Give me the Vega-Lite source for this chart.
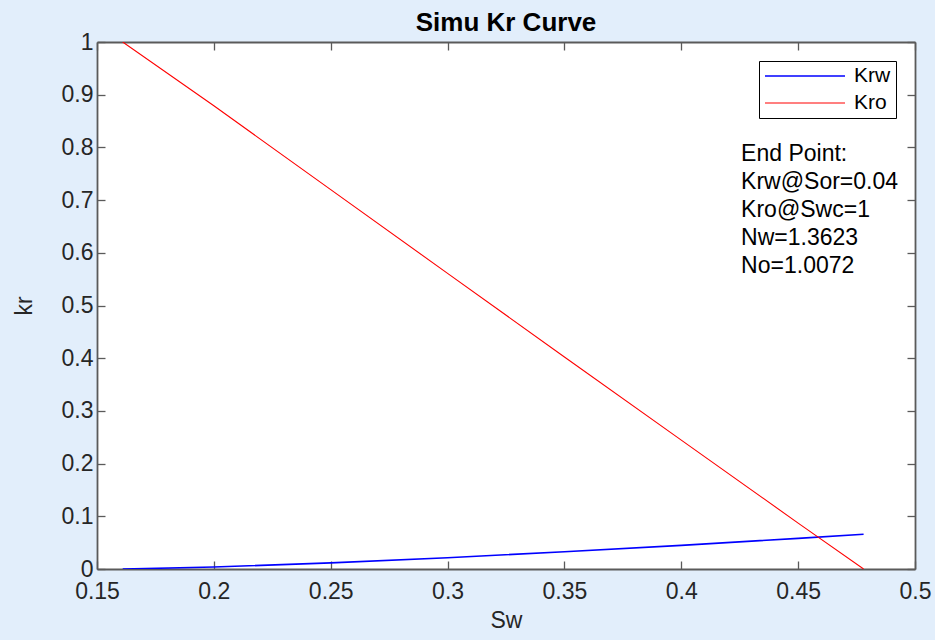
{
  "$schema": "https://vega.github.io/schema/vega-lite/v6.json",
  "width": 818,
  "height": 527,
  "autosize": {"type": "none"},
  "padding": {"left": 97, "top": 42, "right": 20, "bottom": 71},
  "background": "#e2eefb",
  "title": {
    "text": "Simu Kr Curve",
    "font": "Liberation Sans",
    "fontSize": 26,
    "fontWeight": "bold",
    "color": "#000000",
    "anchor": "middle",
    "offset": -5
  },
  "config": {
    "view": {"fill": "#ffffff", "stroke": null},
    "axis": {
      "grid": false,
      "labelFont": "Liberation Sans",
      "labelFontSize": 23,
      "labelColor": "#262626",
      "labelFlush": false,
      "titleFont": "Liberation Sans",
      "titleFontSize": 23,
      "titleFontWeight": "normal",
      "titleColor": "#262626",
      "domainColor": "#5a5a5a",
      "domainWidth": 1.8,
      "tickColor": "#5a5a5a",
      "tickWidth": 1.3,
      "tickSize": -8
    },
    "legend": {
      "orient": "top-right",
      "offset": 19,
      "strokeColor": "#000000",
      "fillColor": "#ffffff",
      "padding": 5,
      "symbolType": "stroke",
      "symbolSize": 6400,
      "symbolStrokeWidth": 1.3,
      "clipHeight": 20,
      "labelFont": "Liberation Sans",
      "labelFontSize": 21,
      "labelColor": "#000000",
      "labelOffset": 8,
      "rowPadding": 6
    }
  },
  "datasets": {
    "curves": [
      {"Sw": 0.161, "kr": 0.0, "series": "Krw"},
      {"Sw": 0.2, "kr": 0.0037, "series": "Krw"},
      {"Sw": 0.25, "kr": 0.0116, "series": "Krw"},
      {"Sw": 0.3, "kr": 0.0214, "series": "Krw"},
      {"Sw": 0.35, "kr": 0.0326, "series": "Krw"},
      {"Sw": 0.4, "kr": 0.0449, "series": "Krw"},
      {"Sw": 0.45, "kr": 0.0581, "series": "Krw"},
      {"Sw": 0.478, "kr": 0.066, "series": "Krw"},
      {"Sw": 0.161, "kr": 1.0, "series": "Kro"},
      {"Sw": 0.2, "kr": 0.879, "series": "Kro"},
      {"Sw": 0.25, "kr": 0.7198, "series": "Kro"},
      {"Sw": 0.3, "kr": 0.561, "series": "Kro"},
      {"Sw": 0.35, "kr": 0.4024, "series": "Kro"},
      {"Sw": 0.4, "kr": 0.2445, "series": "Kro"},
      {"Sw": 0.45, "kr": 0.0871, "series": "Kro"},
      {"Sw": 0.478, "kr": 0.0, "series": "Kro"}
    ],
    "note": [
      {"Sw": 0.4256, "kr": 0.774, "label": "End Point:\nKrw@Sor=0.04\nKro@Swc=1\nNw=1.3623\nNo=1.0072"}
    ]
  },
  "layer": [
    {
      "data": {"name": "curves"},
      "mark": {"type": "line", "clip": true},
      "encoding": {
        "x": {
          "field": "Sw", "type": "quantitative",
          "scale": {"domain": [0.15, 0.5], "nice": false, "zero": false},
          "axis": {
            "orient": "bottom", "title": "Sw", "format": "~g",
            "values": [0.15, 0.2, 0.25, 0.3, 0.35, 0.4, 0.45, 0.5],
            "labelPadding": 19, "titlePadding": 6
          }
        },
        "y": {
          "field": "kr", "type": "quantitative",
          "scale": {"domain": [0, 1], "nice": false},
          "axis": {
            "orient": "left", "title": "kr", "format": "~g",
            "values": [0, 0.1, 0.2, 0.3, 0.4, 0.5, 0.6, 0.7, 0.8, 0.9, 1],
            "labelPadding": 12, "titlePadding": 25
          }
        },
        "color": {
          "field": "series", "type": "nominal",
          "scale": {"domain": ["Krw", "Kro"], "range": ["#0000ff", "#ff0000"]},
          "legend": {"title": null}
        },
        "strokeWidth": {
          "field": "series", "type": "nominal",
          "scale": {"domain": ["Krw", "Kro"], "range": [1.6, 1.1]},
          "legend": null
        }
      }
    },
    {
      "data": {"name": "note"},
      "mark": {
        "type": "text",
        "align": "left",
        "baseline": "alphabetic",
        "font": "Liberation Sans",
        "fontSize": 23,
        "lineBreak": "\n",
        "lineHeight": 28,
        "color": "#000000"
      },
      "encoding": {
        "x": {
          "field": "Sw", "type": "quantitative",
          "scale": {"domain": [0.15, 0.5], "nice": false, "zero": false},
          "axis": {
            "orient": "top", "title": null, "labels": false,
            "values": [0.15, 0.2, 0.25, 0.3, 0.35, 0.4, 0.45, 0.5]
          }
        },
        "y": {
          "field": "kr", "type": "quantitative",
          "scale": {"domain": [0, 1], "nice": false},
          "axis": {
            "orient": "right", "title": null, "labels": false,
            "values": [0, 0.1, 0.2, 0.3, 0.4, 0.5, 0.6, 0.7, 0.8, 0.9, 1]
          }
        },
        "text": {"field": "label", "type": "nominal"}
      }
    }
  ],
  "resolve": {"axis": {"x": "independent", "y": "independent"}}
}
